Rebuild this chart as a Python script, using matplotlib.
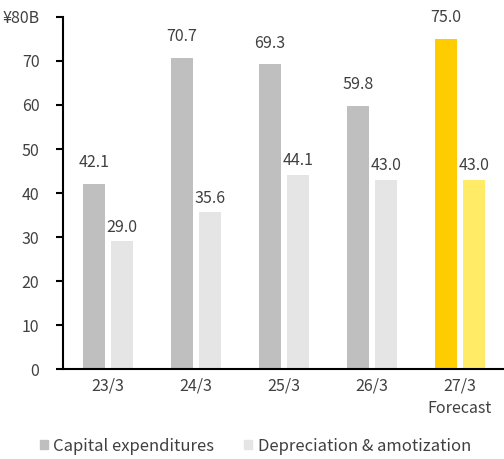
import matplotlib
matplotlib.use("Agg")
import matplotlib.pyplot as plt
from matplotlib.patches import Patch
import numpy as np

plt.rcParams['font.family'] = ['Noto Sans CJK JP', 'DejaVu Sans']

categories = ["23/3", "24/3", "25/3", "26/3", "27/3\nForecast"]
capex = [42.1, 70.7, 69.3, 59.8, 75.0]
depreciation = [29.0, 35.6, 44.1, 43.0, 43.0]
yticks = [0, 10, 20, 30, 40, 50, 60, 70, 80]
ytick_labels = ["0", "10", "20", "30", "40", "50", "60", "70", "¥80B"]

capex_colors = ["#BFBFBF"] * 4 + ["#FFCC00"]
dep_colors = ["#E5E5E5"] * 4 + ["#FFEB66"]
text_color = "#404040"
fs = 11.5

fig = plt.figure(figsize=(5.04, 4.59), dpi=100)
ax = fig.add_axes([0.125, 0.196, 0.875, 0.767])

x = np.arange(len(categories))
w = 0.25
off = 0.16
ax.bar(x - off, capex, w, color=capex_colors)
ax.bar(x + off, depreciation, w, color=dep_colors)

for xi, v in zip(x - off, capex):
    ax.annotate(f"{v:.1f}", (xi, v), xytext=(0, 9), textcoords="offset points",
                ha="center", va="bottom", fontsize=fs, color=text_color)
for xi, v in zip(x + off, depreciation):
    ax.annotate(f"{v:.1f}", (xi, v), xytext=(0, 4), textcoords="offset points",
                ha="center", va="bottom", fontsize=fs, color=text_color)

ax.set_xlim(-0.51, 4.5)
ax.set_ylim(0, 80)
ax.set_yticks(yticks)
ax.set_yticklabels(ytick_labels, fontsize=fs, color=text_color)
ax.set_xticks(x)
ax.set_xticklabels(categories, fontsize=fs, color=text_color, linespacing=1.45)
ax.tick_params(axis='x', length=0, pad=6)
ax.tick_params(axis='y', length=5, width=1.5, pad=12)
for s in ["top", "right"]:
    ax.spines[s].set_visible(False)
for s in ["left", "bottom"]:
    ax.spines[s].set_linewidth(1.5)
    ax.spines[s].set_color("black")

handles = [Patch(color="#BFBFBF"), Patch(color="#E5E5E5")]
fig.legend(handles, ["Capital expenditures", "Depreciation & amotization"],
           loc="center", bbox_to_anchor=(0.507, 0.028), ncol=2, frameon=False,
           fontsize=12, handlelength=0.45, handleheight=0.45, handletextpad=0.35,
           columnspacing=1.8, labelcolor=text_color)

fig.savefig("out.png", dpi=100)
